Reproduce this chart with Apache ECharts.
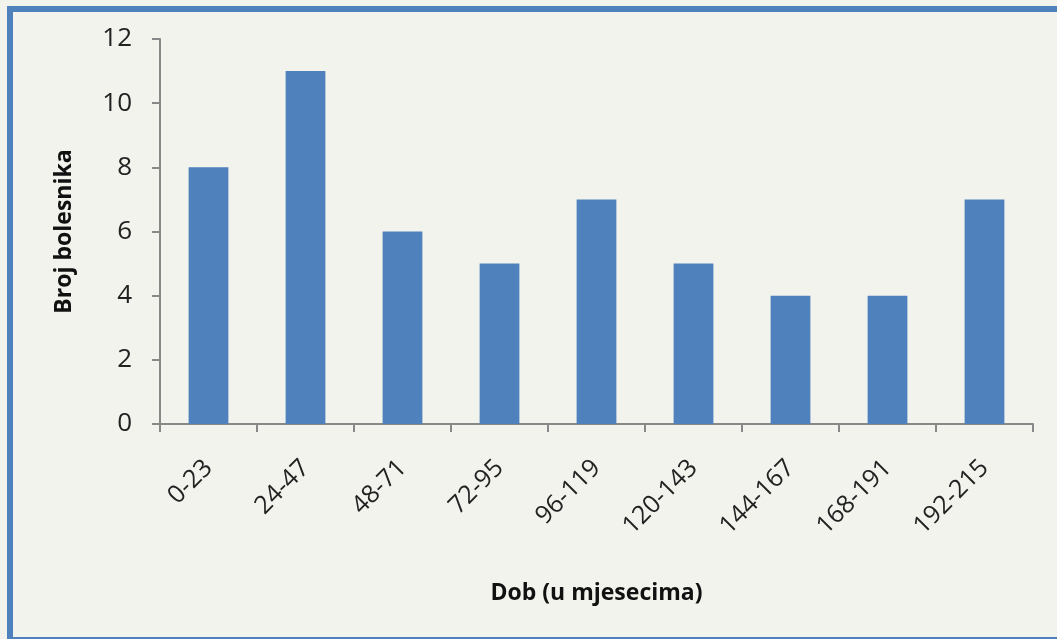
<!DOCTYPE html>
<html>
<head>
<meta charset="utf-8">
<script src="https://cdn.jsdelivr.net/npm/echarts@6/dist/echarts.min.js"></script>
<style>
  html, body { margin: 0; padding: 0; background: #f3f3ee; }
  #wrap { position: relative; width: 1057px; height: 639px; overflow: hidden; background: #f3f3ee; }
  #frame { position: absolute; left: 7px; top: 6px; width: 1100px; height: 625px;
           border-left: 6px solid #4f81bd; border-top: 6px solid #4f81bd; border-bottom: 2px solid #4f81bd; }
  #main { position: absolute; left: 0; top: 0; width: 1057px; height: 639px; }
</style>
</head>
<body>
<div id="wrap">
  <div id="frame"></div>
  <div id="main"></div>
</div>
<script>
  // dobne skupine (mjeseci) i broj bolesnika
  var categories = ['0-23', '24-47', '48-71', '72-95', '96-119', '120-143', '144-167', '168-191', '192-215'];
  var patients = [8, 11, 6, 5, 7, 5, 4, 4, 7];
  var yTicks = [0, 2, 4, 6, 8, 10, 12];

  var font = '"Open Sans", "Noto Sans", sans-serif';
  var chart = echarts.init(document.getElementById('main'), null, { renderer: 'canvas' });
  chart.setOption({
    animation: false,
    grid: {
      left: 160,
      top: 39,
      right: 24,
      bottom: 215,
      containLabel: false
    },
    xAxis: {
      type: 'category',
      data: categories,
      name: 'Dob (u mjesecima)',
      nameLocation: 'middle',
      nameGap: 158,
      nameTextStyle: { fontFamily: font, fontSize: 23, fontWeight: 'bold', color: '#111' },
      axisLine: { lineStyle: { color: '#888', width: 2 } },
      axisTick: { show: true, alignWithLabel: false, length: 8, lineStyle: { color: '#888', width: 2 } },
      axisLabel: {
        rotate: 45,
        margin: 40,
        fontFamily: font,
        fontSize: 25,
        color: '#222'
      }
    },
    yAxis: {
      type: 'value',
      min: yTicks[0],
      max: yTicks[yTicks.length - 1],
      interval: 2,
      name: 'Broj bolesnika',
      nameLocation: 'middle',
      nameGap: 84,
      nameTextStyle: { fontFamily: font, fontSize: 23, fontWeight: 'bold', color: '#111' },
      splitLine: { show: false },
      axisLine: { show: true, lineStyle: { color: '#888', width: 2 } },
      axisTick: { show: true, length: 8, lineStyle: { color: '#888', width: 2 } },
      axisLabel: {
        margin: 28,
        fontFamily: font,
        fontSize: 26,
        color: '#222'
      }
    },
    series: [{
      type: 'bar',
      data: patients,
      barWidth: '41%',
      itemStyle: { color: '#4f81bd' }
    }]
  });
</script>
</body>
</html>
